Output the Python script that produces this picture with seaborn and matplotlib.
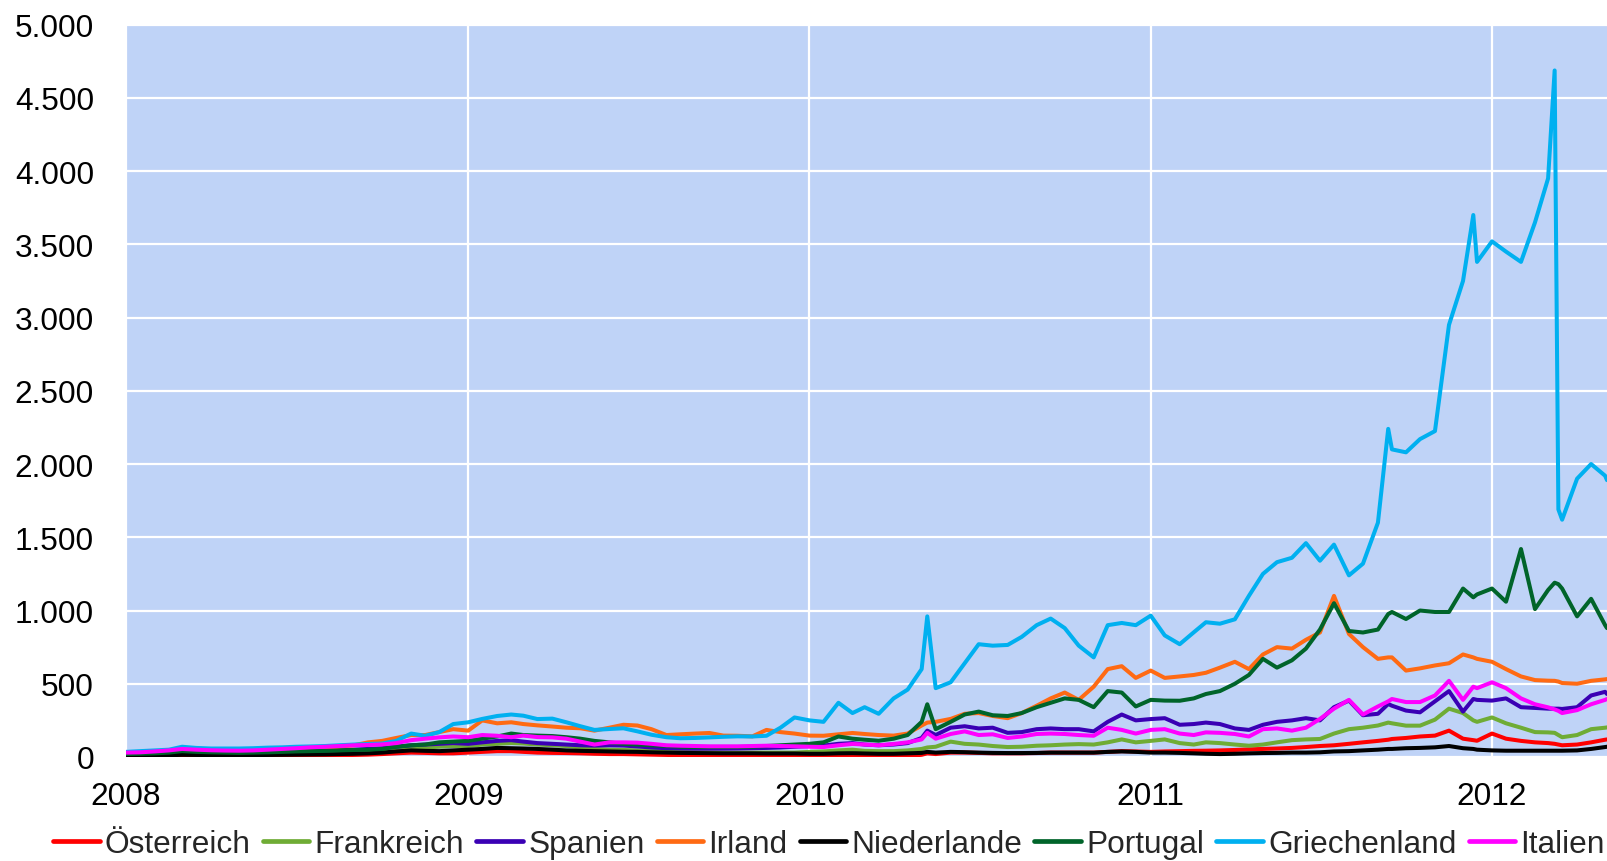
import pandas as pd
import matplotlib
matplotlib.use('Agg')
import matplotlib.pyplot as plt
import matplotlib.dates as mdates
from matplotlib.lines import Line2D
from matplotlib.ticker import FuncFormatter
import seaborn as sns

# half-monthly sampling dates, with a few extra days around the spikes
half = ['01-01', '01-16', '02-01', '02-16', '03-01', '03-16', '04-01', '04-16',
        '05-01', '05-16', '06-01', '06-16', '07-01', '07-16', '08-01', '08-16',
        '09-01', '09-16', '10-01', '10-16', '11-01', '11-16', '12-01', '12-16']
days_2010 = half[:9] + ['05-07'] + half[9:]
days_2011 = half[:17] + ['09-12'] + half[17:23] + ['12-12'] + half[23:]
days_2012 = ['01-01', '01-16', '02-01', '02-16', '03-01', '03-08', '03-12',
             '03-16', '04-01', '04-16', '05-01', '05-03']
dates = (['2008-' + d for d in half] + ['2009-' + d for d in half]
         + ['2010-' + d for d in days_2010] + ['2011-' + d for d in days_2011]
         + ['2012-' + d for d in days_2012])

# values (one line per year)
oesterreich = [5, 5, 6, 7, 9, 8, 7, 7, 7, 8, 8, 9, 10, 10, 11, 12, 14, 16, 20, 25, 30, 28, 25, 25,
               30, 35, 40, 40, 35, 30, 28, 27, 25, 22, 20, 20, 18, 16, 14, 12, 10, 9, 8, 8, 7, 6, 5, 5,
               3, 3, 5, 5, 3, 2, 3, 5, 15, 25, 20, 30, 30, 28, 25, 25, 25, 27, 30, 30, 30, 30, 35, 40, 38,
               35, 38, 40, 42, 43, 45, 48, 52, 55, 58, 62, 68, 75, 80, 90, 100, 110, 118, 123, 130, 140, 146, 180, 125, 115, 111,
               160, 125, 110, 100, 95, 90, 85, 80, 85, 100, 118, 120]
frankreich = [10, 12, 15, 18, 22, 20, 18, 17, 17, 18, 20, 22, 25, 27, 30, 32, 35, 38, 42, 50, 60, 65, 70, 75,
              75, 85, 90, 95, 92, 85, 80, 75, 65, 55, 50, 48, 45, 42, 38, 35, 33, 32, 30, 30, 30, 30, 30, 30,
              35, 38, 45, 50, 42, 40, 40, 45, 55, 65, 70, 105, 90, 85, 75, 68, 70, 77, 80, 85, 88, 85, 100, 120, 100,
              110, 120, 95, 85, 100, 95, 85, 77, 85, 100, 115, 120, 123, 160, 190, 200, 215, 235, 230, 214, 214, 255, 330, 300, 250, 240,
              270, 230, 200, 170, 168, 165, 150, 135, 150, 190, 200, 202]
spanien = [15, 18, 25, 30, 40, 35, 32, 30, 30, 32, 35, 38, 40, 42, 44, 46, 50, 55, 60, 70, 80, 85, 90, 95,
           90, 100, 110, 115, 105, 95, 90, 85, 80, 78, 80, 78, 72, 65, 60, 58, 57, 57, 57, 58, 60, 62, 65, 70,
           75, 78, 90, 95, 85, 80, 85, 95, 130, 180, 150, 200, 210, 195, 200, 165, 170, 190, 195, 190, 190, 175, 240, 290, 250,
           259, 265, 220, 225, 235, 225, 195, 185, 220, 240, 250, 265, 250, 340, 385, 285, 295, 362, 350, 317, 305, 380, 450, 310, 396, 390,
           385, 400, 340, 335, 330, 330, 330, 328, 340, 420, 445, 430]
irland = [15, 18, 25, 30, 45, 40, 38, 36, 35, 38, 42, 45, 50, 55, 60, 70, 80, 100, 110, 130, 150, 150, 170, 190,
          180, 250, 230, 237, 225, 216, 208, 200, 196, 180, 200, 220, 215, 190, 150, 155, 160, 164, 146, 145, 141, 185, 170, 160,
          146, 145, 155, 164, 157, 150, 146, 160, 215, 235, 240, 260, 295, 300, 280, 265, 300, 350, 400, 440, 390, 480, 600, 620, 540,
          590, 540, 550, 560, 575, 610, 650, 600, 700, 750, 740, 800, 850, 1100, 840, 750, 670, 680, 680, 590, 605, 625, 640, 700, 680, 670,
          650, 600, 550, 525, 521, 520, 515, 505, 500, 520, 530, 532]
niederlande = [8, 9, 10, 12, 15, 14, 13, 12, 12, 13, 14, 15, 16, 17, 18, 20, 22, 25, 30, 38, 45, 42, 40, 45,
               50, 55, 62, 60, 58, 55, 50, 45, 42, 40, 38, 36, 35, 32, 30, 28, 27, 26, 25, 25, 25, 24, 24, 24,
               22, 22, 25, 26, 24, 22, 22, 25, 28, 35, 30, 35, 33, 30, 28, 27, 27, 28, 30, 30, 30, 30, 35, 38, 35,
               30, 30, 28, 25, 22, 20, 22, 25, 27, 28, 30, 30, 32, 38, 40, 45, 50, 55, 55, 60, 62, 66, 75, 60, 55, 50,
               45, 43, 43, 43, 43, 43, 43, 43, 45, 55, 68, 70]
portugal = [20, 22, 25, 30, 40, 35, 32, 30, 28, 30, 32, 35, 38, 40, 42, 45, 48, 50, 55, 70, 80, 85, 100, 105,
            110, 125, 140, 160, 150, 146, 143, 135, 125, 110, 100, 90, 85, 80, 75, 70, 68, 68, 68, 68, 70, 75, 80, 85,
            90, 100, 140, 125, 118, 111, 125, 150, 240, 360, 190, 240, 290, 310, 285, 280, 300, 340, 370, 400, 390, 340, 450, 440, 345,
            390, 385, 384, 400, 430, 450, 500, 560, 670, 610, 660, 740, 870, 1050, 860, 850, 870, 976, 990, 942, 1000, 990, 990, 1150, 1090, 1110,
            1150, 1060, 1420, 1010, 1140, 1190, 1180, 1150, 960, 1080, 900, 880]
griechenland = [35, 40, 45, 50, 70, 62, 58, 58, 58, 60, 64, 66, 70, 72, 75, 80, 85, 89, 92, 110, 160, 145, 170, 225,
                237, 260, 280, 290, 282, 259, 262, 237, 210, 185, 191, 196, 175, 152, 135, 128, 130, 134, 138, 141, 140, 145, 200, 270,
                250, 240, 370, 300, 340, 295, 400, 460, 600, 960, 470, 510, 640, 770, 760, 765, 820, 900, 945, 880, 760, 680, 900, 915, 900,
                965, 830, 770, 851, 920, 910, 940, 1100, 1250, 1330, 1360, 1460, 1340, 1450, 1240, 1320, 1600, 2240, 2100, 2080, 2170, 2225, 2950, 3250, 3700, 3380,
                3520, 3450, 3380, 3650, 3950, 4687, 1690, 1620, 1900, 2000, 1920, 1890]
italien = [30, 32, 38, 45, 55, 50, 46, 44, 43, 45, 50, 55, 60, 66, 70, 75, 80, 82, 86, 95, 115, 125, 134, 140,
           135, 150, 145, 135, 146, 136, 134, 125, 105, 85, 100, 100, 98, 90, 80, 77, 75, 73, 73, 73, 75, 77, 75, 73,
           70, 68, 80, 89, 85, 80, 89, 100, 120, 165, 125, 157, 175, 150, 155, 130, 140, 157, 160, 157, 150, 145, 200, 185, 160,
           185, 190, 160, 150, 168, 165, 157, 140, 190, 195, 180, 200, 260, 330, 390, 290, 345, 380, 396, 375, 375, 420, 520, 390, 480, 470,
           510, 470, 400, 360, 339, 325, 315, 300, 320, 360, 390, 396]

laender = ['Österreich', 'Frankreich', 'Spanien', 'Irland', 'Niederlande',
           'Portugal', 'Griechenland', 'Italien']
farben = ['#FF0000', '#6FAC35', '#3A00B4', '#FF6A13', '#000000',
          '#00642A', '#00B0F0', '#FF00FF']

wide = pd.DataFrame({
    'date': pd.to_datetime(dates),
    'Österreich': oesterreich,
    'Frankreich': frankreich,
    'Spanien': spanien,
    'Irland': irland,
    'Niederlande': niederlande,
    'Portugal': portugal,
    'Griechenland': griechenland,
    'Italien': italien,
})
df = wide.melt(id_vars='date', var_name='land', value_name='wert')

sns.set_theme(style='darkgrid')
plt.rcParams['font.family'] = ['Liberation Sans', 'DejaVu Sans']

fig = plt.figure(figsize=(16.07, 8.62), dpi=100)
ax = fig.add_axes([126 / 1607, 104 / 862, 1 - 126 / 1607, 732.4 / 862])

sns.lineplot(data=df, x='date', y='wert', hue='land', hue_order=laender,
             palette=dict(zip(laender, farben)), linewidth=2.9,
             estimator=None, sort=False, legend=False, ax=ax)
for ln in ax.get_lines():
    ln.set_solid_joinstyle('round')
    ln.set_solid_capstyle('round')

ax.set_facecolor('#BFD3F7')
ax.grid(True, color='white', linewidth=1.6)
for s in ax.spines.values():
    s.set_visible(False)

ax.set_xlim(pd.Timestamp('2008-01-01'), pd.Timestamp('2012-05-03'))
ax.set_ylim(0, 5000)
ax.set_yticks(range(0, 5001, 500))
ax.yaxis.set_major_formatter(FuncFormatter(lambda v, p: f'{int(v):,}'.replace(',', '.')))
ax.xaxis.set_major_locator(mdates.YearLocator())
ax.xaxis.set_major_formatter(mdates.DateFormatter('%Y'))
ax.tick_params(axis='y', labelsize=22.8, length=0, pad=23, colors='black')
ax.tick_params(axis='x', labelsize=22.8, length=0, pad=17, colors='black')
ax.set_xlabel('')
ax.set_ylabel('')

handles = [Line2D([], [], color=c, linewidth=3.4) for c in farben]
fig.legend(handles, laender, ncol=8, loc='center left',
           bbox_to_anchor=(53 / 1607, 1 - 845 / 862), frameon=False,
           fontsize=22.8, handlelength=1.47, handletextpad=0.17,
           columnspacing=0.38, borderpad=0, borderaxespad=0)

fig.savefig('out.png', dpi=100)
